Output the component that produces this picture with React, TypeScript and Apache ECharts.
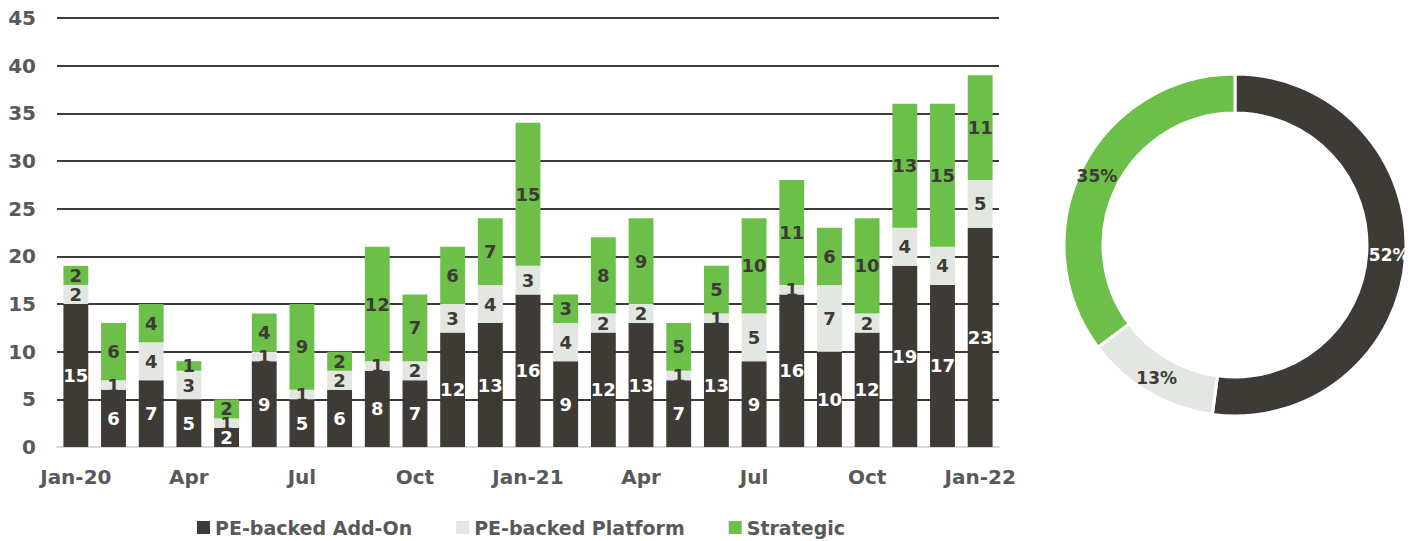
import React, { useEffect, useRef } from "react";
import * as echarts from "echarts";

const categories = [
  "Jan-20", "Feb", "Mar", "Apr", "May", "Jun", "Jul", "Aug", "Sep", "Oct", "Nov", "Dec",
  "Jan-21", "Feb", "Mar", "Apr", "May", "Jun", "Jul", "Aug", "Sep", "Oct", "Nov", "Dec",
  "Jan-22",
];
const addOn = [15, 6, 7, 5, 2, 9, 5, 6, 8, 7, 12, 13, 16, 9, 12, 13, 7, 13, 9, 16, 10, 12, 19, 17, 23];
const platform = [2, 1, 4, 3, 1, 1, 1, 2, 1, 2, 3, 4, 3, 4, 2, 2, 1, 1, 5, 1, 7, 2, 4, 4, 5];
const strategic = [2, 6, 4, 1, 2, 4, 9, 2, 12, 7, 6, 7, 15, 3, 8, 9, 5, 5, 10, 11, 6, 10, 13, 15, 11];
const seriesNames = ["PE-backed Add-On", "PE-backed Platform", "Strategic"];

const DARK = "#3e3a35";
const LIGHT = "#e3e7e2";
const GREEN = "#6cc04a";
const TEXT = "#595959";
const FONT = "'DejaVu Sans', Verdana, sans-serif";

const sum = (a: number[]) => a.reduce((s, v) => s + v, 0);

export default function App() {
  const ref = useRef<HTMLDivElement>(null);
  useEffect(() => {
    document.body.style.margin = "0";
    const chart = echarts.init(ref.current!, null, { renderer: "svg" });
    const barLabel = (color: string) => ({
      show: true,
      position: "inside" as const,
      color,
      fontFamily: FONT,
      fontWeight: "bold" as const,
      fontSize: 18,
    });
    chart.setOption({
      animation: false,
      textStyle: { fontFamily: FONT },
      color: [DARK, LIGHT, GREEN],
      legend: {
        top: 513,
        left: 192,
        itemWidth: 13,
        itemHeight: 13,
        itemGap: 44,
        icon: "rect",
        textStyle: { color: TEXT, fontSize: 19, fontWeight: "bold", fontFamily: FONT },
        data: seriesNames,
      },
      grid: { left: 57, right: 417, top: 18, bottom: 94 },
      xAxis: {
        type: "category",
        data: categories,
        axisTick: { show: false },
        axisLine: { lineStyle: { color: "#d9d9d9", width: 2 } },
        axisLabel: {
          interval: 2,
          margin: 20,
          color: TEXT,
          fontSize: 20,
          fontWeight: "bold",
          fontFamily: FONT,
        },
      },
      yAxis: {
        type: "value",
        min: 0,
        max: 45,
        interval: 5,
        axisLine: { show: false },
        axisTick: { show: false },
        splitLine: { lineStyle: { color: DARK, width: 2 } },
        axisLabel: {
          margin: 21,
          color: TEXT,
          fontSize: 20,
          fontWeight: "bold",
          fontFamily: FONT,
        },
      },
      series: [
        {
          name: seriesNames[0],
          type: "bar",
          stack: "t",
          barWidth: "66%",
          data: addOn,
          itemStyle: { color: DARK },
          label: barLabel("#ffffff"),
        },
        {
          name: seriesNames[1],
          type: "bar",
          stack: "t",
          data: platform,
          itemStyle: { color: LIGHT },
          label: barLabel(DARK),
        },
        {
          name: seriesNames[2],
          type: "bar",
          stack: "t",
          data: strategic,
          itemStyle: { color: GREEN },
          label: barLabel(DARK),
        },
        {
          type: "pie",
          center: [1235, 245],
          radius: [132, 171],
          startAngle: 90,
          clockwise: true,
          legendHoverLink: false,
          itemStyle: { borderColor: "#ffffff", borderWidth: 3 },
          label: {
            show: true,
            position: "inside",
            fontFamily: FONT,
            fontWeight: "bold",
            fontSize: 17,
            formatter: (p: any) => Math.round(p.percent) + "%",
          },
          labelLine: { show: false },
          data: [
            { name: seriesNames[0], value: sum(addOn), itemStyle: { color: DARK }, label: { color: "#ffffff" } },
            { name: seriesNames[1], value: sum(platform), itemStyle: { color: LIGHT }, label: { color: DARK } },
            { name: seriesNames[2], value: sum(strategic), itemStyle: { color: GREEN }, label: { color: DARK } },
          ],
        },
      ],
    });
    return () => chart.dispose();
  }, []);
  return <div ref={ref} style={{ width: 1416, height: 541 }} />;
}
